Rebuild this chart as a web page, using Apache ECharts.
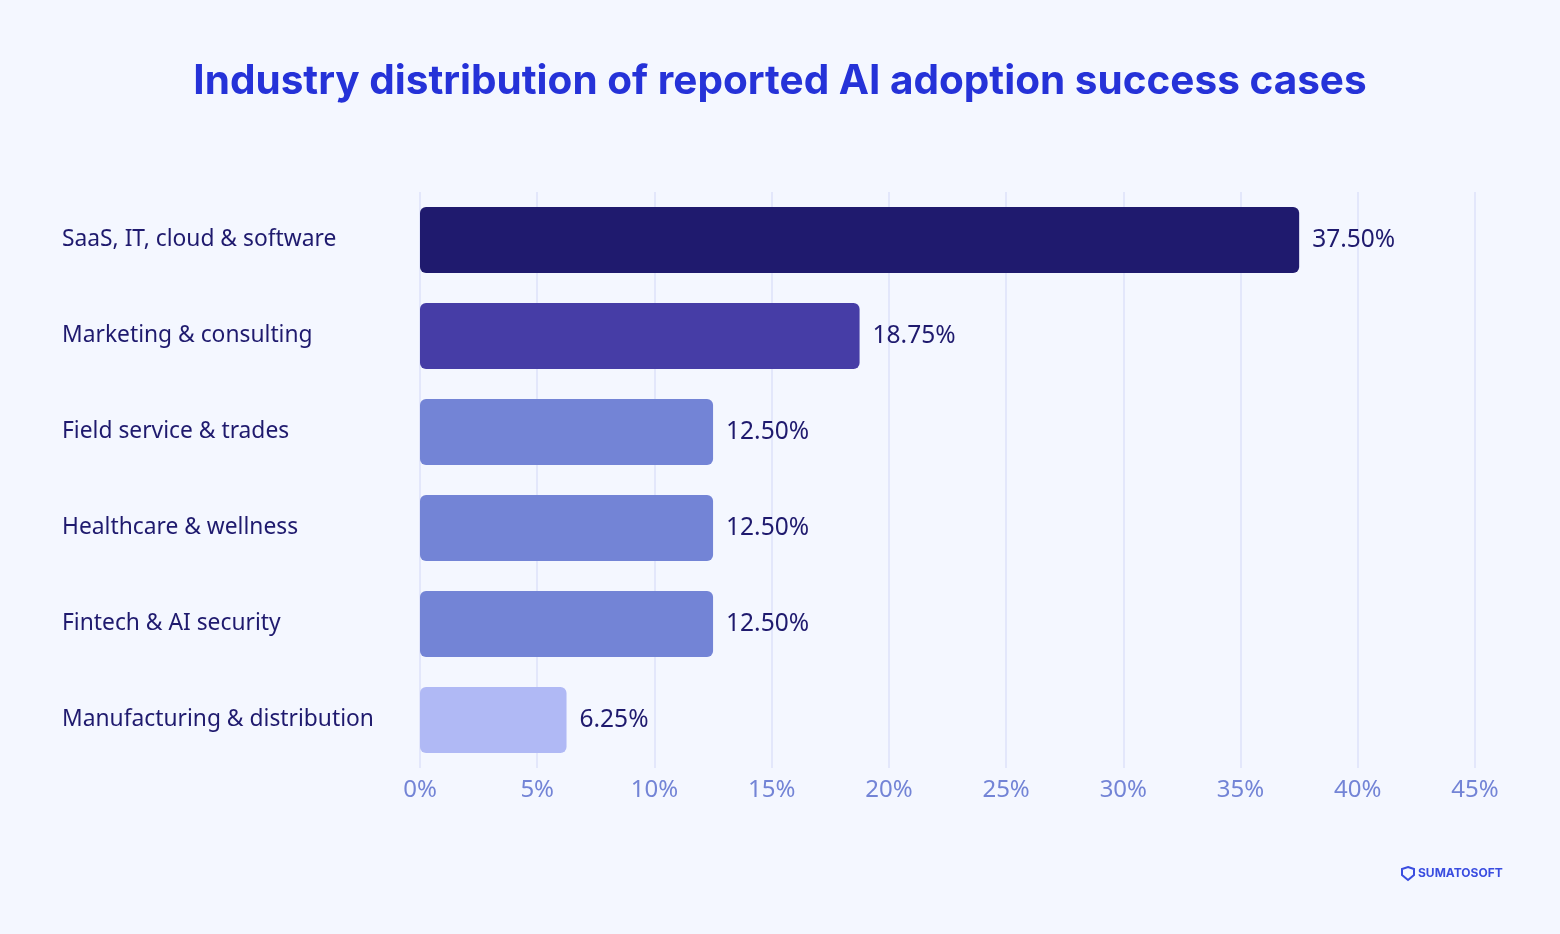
<!DOCTYPE html>
<html>
<head>
<meta charset="utf-8">
<script src="https://cdn.jsdelivr.net/npm/echarts@6/dist/echarts.min.js"></script>
<style>
  html, body { margin: 0; padding: 0; background: #f4f7ff; }
  #chart { width: 1560px; height: 934px; }
</style>
</head>
<body>
<div id="chart"></div>
<script>
// industries, top to bottom
const industries = [
    'SaaS, IT, cloud & software',
    'Marketing & consulting',
    'Field service & trades',
    'Healthcare & wellness',
    'Fintech & AI security',
    'Manufacturing & distribution'
]
const shares = [37.5, 18.75, 12.5, 12.5, 12.5, 6.25]
const barColors = ['#1f1a6e', '#463da6', '#7384d6', '#7384d6', '#7384d6', '#b0b9f5']

const font = '"Noto Sans", Lato, sans-serif'

const chart = echarts.init(document.getElementById('chart'))

const option = {
    backgroundColor: '#f4f7ff',
    title: {
        text: 'Industry distribution of reported AI adoption success cases',
        left: 'center',
        top: 56,
        textStyle: {
            fontFamily: 'Inter, sans-serif',
            fontWeight: 'bold',
            fontSize: 40.5,
            color: '#2532d8'
        }
    },
    grid: {
        left: 420,
        right: 85,
        top: 192,
        height: 576
    },
    xAxis: {
        type: 'value',
        min: 0,
        max: 45,
        interval: 5,
        axisLine: { show: false },
        axisTick: { show: false },
        splitLine: { lineStyle: { color: '#e3e7fb', width: 2 } },
        axisLabel: {
            formatter: '{value}%',
            margin: 10,
            fontFamily: font,
            fontSize: 24,
            color: '#7384d6'
        }
    },
    yAxis: {
        type: 'category',
        inverse: true,
        data: industries,
        axisLine: { show: false },
        axisTick: { show: false },
        axisLabel: {
            align: 'left',
            margin: 358,
            fontFamily: font,
            fontSize: 22.8,
            color: '#1f1a6e'
        }
    },
    series: [
        {
            type: 'bar',
            barWidth: 66,
            data: shares.map((v, i) => ({
                value: v,
                itemStyle: { color: barColors[i] }
            })),
            itemStyle: { borderRadius: 6 },
            label: {
                show: true,
                position: 'right',
                distance: 13,
                formatter: p => p.value.toFixed(2) + '%',
                fontFamily: font,
                fontSize: 24.5,
                color: '#1f1a6e'
            }
        }
    ],
    graphic: [
        {
            type: 'polygon',
            shape: {
                points: [[1408, 867], [1414, 869], [1414, 875], [1408, 880], [1402, 875], [1402, 869]]
            },
            style: { fill: 'none', stroke: '#3a4de0', lineWidth: 2 }
        },
        {
            type: 'text',
            left: 1418,
            top: 867,
            style: {
                text: 'SUMATOSOFT',
                fontFamily: 'Inter, sans-serif',
                fontWeight: 'bold',
                fontSize: 12,
                fill: '#3a4de0'
            }
        }
    ]
}

chart.setOption(option)
</script>
</body>
</html>
